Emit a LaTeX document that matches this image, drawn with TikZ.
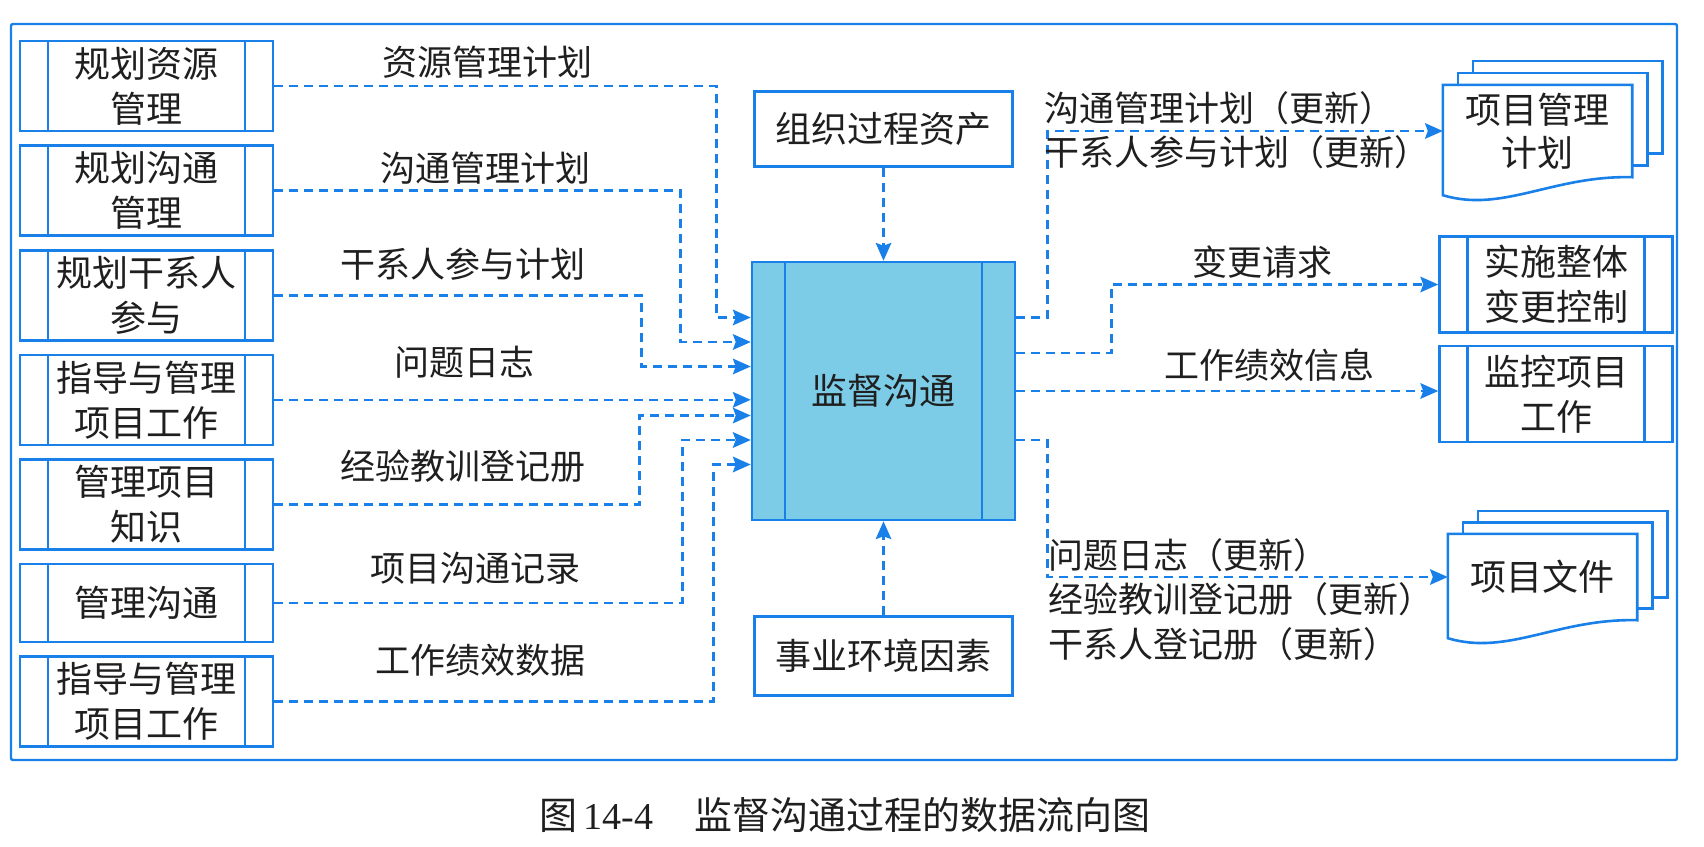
\documentclass[tikz,border=0pt]{standalone}
\usepackage{fontspec}
\setmainfont{Noto Sans CJK SC}
\newfontfamily\capfont{Liberation Serif}
\usetikzlibrary{arrows.meta,positioning,calc,backgrounds}
\definecolor{lineblue}{RGB}{24,128,232}
\definecolor{procfill}{RGB}{124,204,232}
\definecolor{ink}{gray}{0.12}

\begin{document}
\begin{tikzpicture}[x=1pt, y=1pt,
      every node/.style={font=\fontsize{36}{45}\selectfont, text=ink},
      box/.style={draw=lineblue, line width=2.6pt, fill=white, align=center,
                  inner sep=2pt, minimum width=258pt, minimum height=75pt},
      proc/.style={box, minimum width=253pt, minimum height=90pt,
                  path picture={\draw[lineblue, line width=2.4pt]
                    ([xshift=#1]path picture bounding box.north west) -- ([xshift=#1]path picture bounding box.south west)
                    ([xshift=-#1]path picture bounding box.north east) -- ([xshift=-#1]path picture bounding box.south east);}},
      proc/.default=28pt,
      doc/.style={align=center, inner sep=2pt, minimum width=189pt, font=\fontsize{36}{43}\selectfont},
      sheet/.style={draw=lineblue, line width=2.6pt, fill=white},
      lbl/.style={inner sep=0pt, text height=30pt, text depth=3pt, font=\fontsize{35}{44}\selectfont},
      tip/.tip={Stealth[length=18pt, width=16pt, inset=3pt, line width=0pt]},
      flow/.style={draw=lineblue, line width=2.6pt, dash pattern=on 9pt off 6pt, -tip}
    ]
    \useasboundingbox (0,0) rectangle (1704,-846);
    % outer frame
    \draw[lineblue, line width=2.4pt, rounded corners=2pt] (11,-24) rectangle (1677,-760);

    % inputs
    \node[proc] (rsc) at (146.5,-86) {规划资源\\管理};
    \node[proc, below=12pt of rsc] (pcm)  {规划沟通\\管理};
    \node[proc, below=12pt of pcm] (pse)  {规划干系人\\参与};
    \node[proc, below=12pt of pse] (dmw)  {指导与管理\\项目工作};
    \node[proc, below=12pt of dmw] (mpk)  {管理项目\\知识};
    \node[proc, below=12pt of mpk, minimum height=78pt] (mcm) {管理沟通};
    \node[proc, below=12pt of mcm] (dmw2) {指导与管理\\项目工作};

    % process
    \node[proc=33pt, fill=procfill, minimum width=263pt, minimum height=258pt]
      (mon) at (883.5,-391) {监督沟通};
    \node[box, above=93pt of mon] (opa) {组织过程资产};
    \node[box, below=94pt of mon, minimum height=79pt] (eef) {事业环境因素};

    % outputs
    \node[doc, minimum height=92pt] (pmp) at (1537.5,-131) {项目管理\\计划};
    \node[proc, minimum width=233pt, minimum height=96pt] (icc) at (1556,-284.5) {实施整体\\变更控制};
    \node[proc, minimum width=233pt, minimum height=96pt, below=11pt of icc] (mcw) {监控项目\\工作};
    \node[doc, minimum height=86pt] (pdoc) at (1542.5,-577) {项目文件};

    \begin{scope}[on background layer]
      \draw[sheet] ([shift={(30,24)}]pmp.south west) rectangle ([shift={(30,24)}]pmp.north east);
      \draw[sheet] ([shift={(15,12)}]pmp.south west) rectangle ([shift={(15,12)}]pmp.north east);
      \draw[sheet] (pmp.north west) -- (pmp.north east) -- (pmp.south east)
        .. controls ([shift={(110,2)}]pmp.south west) and ([shift={(60,-36)}]pmp.south west)
        .. ([yshift=-18pt]pmp.south west) -- cycle;
      \draw[sheet] ([shift={(30,23)}]pdoc.south west) rectangle ([shift={(30,23)}]pdoc.north east);
      \draw[sheet] ([shift={(15,11.5)}]pdoc.south west) rectangle ([shift={(15,11.5)}]pdoc.north east);
      \draw[sheet] (pdoc.north west) -- (pdoc.north east) -- (pdoc.south east)
        .. controls ([shift={(110,2)}]pdoc.south west) and ([shift={(60,-36)}]pdoc.south west)
        .. ([yshift=-18pt]pdoc.south west) -- cycle;
    \end{scope}

    % input flows
    \draw[flow] (rsc.east)  -| ([xshift=-34pt,yshift=73.5pt]mon.west)  -- ([yshift=73.5pt]mon.west);
    \draw[flow] (pcm.east)  -| ([xshift=-70pt,yshift=49pt]mon.west)    -- ([yshift=49pt]mon.west);
    \draw[flow] (pse.east)  -| ([xshift=-109pt,yshift=24.5pt]mon.west) -- ([yshift=24.5pt]mon.west);
    \draw[flow] (dmw.east)  -- (dmw.east -| mon.west);
    \draw[flow] (mpk.east)  -| ([xshift=-111pt,yshift=-24.5pt]mon.west) -- ([yshift=-24.5pt]mon.west);
    \draw[flow] (mcm.east)  -| ([xshift=-68pt,yshift=-49pt]mon.west)   -- ([yshift=-49pt]mon.west);
    \draw[flow] (dmw2.east) -| ([xshift=-37pt,yshift=-73.5pt]mon.west) -- ([yshift=-73.5pt]mon.west);
    \draw[flow] (opa) -- (mon);
    \draw[flow] (eef) -- (mon);

    % output flows
    \draw[flow] ([yshift=73.5pt]mon.east) -- ++(31,0) |- (pmp.west);
    \draw[flow] ([yshift=38pt]mon.east)   -- ++(95,0) |- (icc.west);
    \draw[flow] (mon.east) -- (mon.east -| mcw.west);
    \draw[flow] ([yshift=-49pt]mon.east)  -- ++(31,0) |- (pdoc.west);

    % labels
    \node[lbl] (lrsc)  at (487,-62)  {资源管理计划};
    \node[lbl] (lpcm)  at (485,-168) {沟通管理计划};
    \node[lbl] (lpse)  at (463,-264) {干系人参与计划};
    \node[lbl] (ldmw)  at (464,-362) {问题日志};
    \node[lbl] (lmpk)  at (463,-466) {经验教训登记册};
    \node[lbl] (lmcm)  at (475,-568) {项目沟通记录};
    \node[lbl] (ldmw2) at (480,-660) {工作绩效数据};

    \node[lbl, anchor=west] (lpmp1) at (1044,-108) {沟通管理计划（更新）};
    \node[lbl, anchor=west] (lpmp2) at (1044,-152) {干系人参与计划（更新）};
    \node[lbl] (licc) at (1262,-262) {变更请求};
    \node[lbl] (lmcw) at (1269,-365) {工作绩效信息};
    \node[lbl, anchor=west] (lpd1) at (1048,-555) {问题日志（更新）};
    \node[lbl, anchor=west] (lpd2) at (1048,-599) {经验教训登记册（更新）};
    \node[lbl, anchor=west] (lpd3) at (1048,-644) {干系人登记册（更新）};

    % caption
    \node[font=\fontsize{38}{46}\selectfont] (cap) at (845,-815)
      {图\,{\capfont 14-4}\hspace{1.1em}监督沟通过程的数据流向图};
\end{tikzpicture}
\end{document}
